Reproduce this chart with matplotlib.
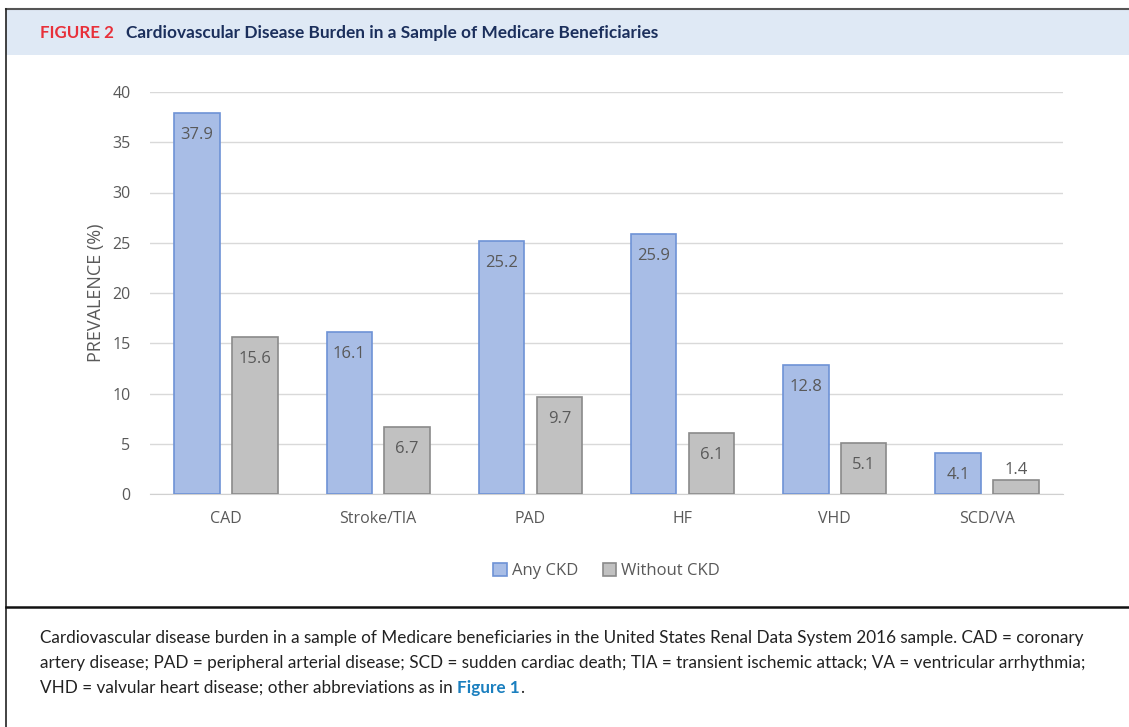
import numpy as np
import matplotlib
matplotlib.use("Agg")
import matplotlib.pyplot as plt
from matplotlib.patches import Rectangle
from matplotlib.lines import Line2D

categories = ["CAD", "Stroke/TIA", "PAD", "HF", "VHD", "SCD/VA"]
any_ckd = [37.9, 16.1, 25.2, 25.9, 12.8, 4.1]
without_ckd = [15.6, 6.7, 9.7, 6.1, 5.1, 1.4]
series_names = ["Any CKD", "Without CKD"]
yticks = [0, 5, 10, 15, 20, 25, 30, 35, 40]

fig_title = "Cardiovascular Disease Burden in a Sample of Medicare Beneficiaries"
caption_lines = [
    "Cardiovascular disease burden in a sample of Medicare beneficiaries in the United States Renal Data System 2016 sample. CAD = coronary",
    "artery disease; PAD = peripheral arterial disease; SCD = sudden cardiac death; TIA = transient ischemic attack; VA = ventricular arrhythmia;",
    "VHD = valvular heart disease; other abbreviations as in ",
]

W, H = 1129, 727
fig = plt.figure(figsize=(W / 100, H / 100), dpi=100)
plt.rcParams['font.family'] = ['Open Sans', 'DejaVu Sans']


def fx(px):
    return px / W


def fy(py):
    return 1 - py / H


# frame and header band
fig.patches.append(Rectangle((fx(6), fy(55)), 1, fy(10) - fy(55), transform=fig.transFigure,
                             facecolor="#dfe9f5", edgecolor="none", zorder=0))
fig.lines.append(Line2D([fx(6), 1], [fy(9), fy(9)], transform=fig.transFigure, color="#555555", lw=1.5))
fig.lines.append(Line2D([fx(6), fx(6)], [fy(9), 0], transform=fig.transFigure, color="#222222", lw=1.2))
fig.lines.append(Line2D([fx(6), 1], [fy(607), fy(607)], transform=fig.transFigure, color="#111111", lw=1.8))

t1 = fig.text(fx(40), fy(33), "FIGURE 2", color="#e8303a", fontsize=12.2, fontweight="bold",
              va="center", ha="left", family="Lato")
fig.canvas.draw()
bb = t1.get_window_extent()
fig.text(bb.x1 / W + fx(12), fy(33), fig_title, color="#1b2f5c", fontsize=12.4, fontweight="bold",
         va="center", ha="left", family="Lato")

# chart
ax = fig.add_axes([fx(150), fy(494), fx(1063) - fx(150), fy(92) - fy(494)])
x = np.arange(len(categories))
bw = 0.30
off = 0.19
ax.bar(x - off, any_ckd, bw, color="#a8bde6", edgecolor="#6e92d6", lw=1.2, label=series_names[0], zorder=3)
ax.bar(x + off, without_ckd, bw, color="#c1c1c1", edgecolor="#8a8a8a", lw=1.2, label=series_names[1], zorder=3)

for i, v in enumerate(any_ckd):
    ax.text(x[i] - off, v - 1.4, f"{v}", ha="center", va="top", fontsize=12, color="#595959", zorder=4)
for i, v in enumerate(without_ckd):
    if v < 3:
        ax.text(x[i] + off, v + 0.2, f"{v}", ha="center", va="bottom", fontsize=12, color="#595959", zorder=4)
    else:
        ax.text(x[i] + off, v - 1.4, f"{v}", ha="center", va="top", fontsize=12, color="#595959", zorder=4)

ax.set_xlim(-0.5, len(categories) - 0.5)
ax.set_ylim(0, 40)
ax.set_yticks(yticks)
ax.set_xticks(x)
ax.set_xticklabels(categories)
ax.tick_params(axis="both", length=0, labelsize=11.5, colors="#595959")
ax.tick_params(axis="x", pad=12)
ax.tick_params(axis="y", pad=14)
ax.grid(axis="y", color="#d9d9d9", lw=1, zorder=0)
for s in ["top", "right", "left"]:
    ax.spines[s].set_visible(False)
ax.spines["bottom"].set_color("#d0d0d0")
ax.set_ylabel("PREVALENCE (%)", fontsize=13, color="#595959", labelpad=5)

leg = ax.legend(loc="upper center", bbox_to_anchor=(0.5, -0.135), ncol=2, frameon=False,
                fontsize=12, handlelength=0.8, handleheight=0.8, handletextpad=0.3, columnspacing=1.5)
for t in leg.get_texts():
    t.set_color("#595959")

# caption
cap_y = [638, 663, 688]
for line, yy in zip(caption_lines, cap_y):
    last = fig.text(fx(40), fy(yy), line, fontsize=12.3, color="#222222", va="center", ha="left", family="Lato")
fig.canvas.draw()
bb = last.get_window_extent()
f1 = fig.text(bb.x1 / W, fy(688), "Figure 1", fontsize=12.3, color="#1a7fbf", fontweight="bold",
              va="center", ha="left", family="Lato")
fig.canvas.draw()
bb = f1.get_window_extent()
fig.text(bb.x1 / W, fy(688), ".", fontsize=12.3, color="#222222", va="center", ha="left", family="Lato")

fig.savefig("out.png", dpi=100)
